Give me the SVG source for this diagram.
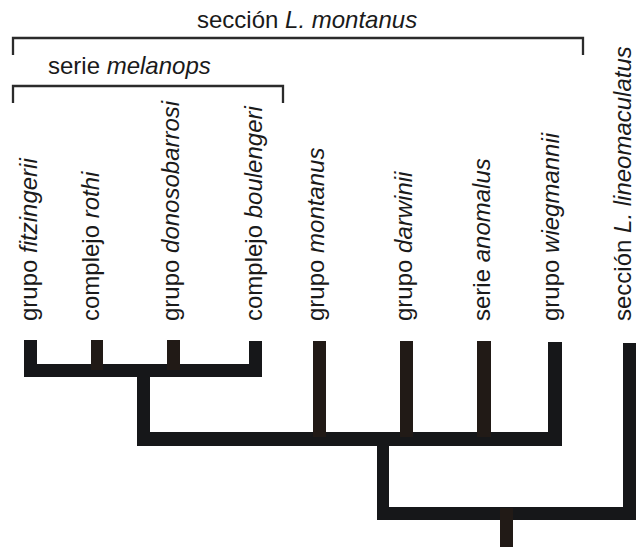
<svg xmlns="http://www.w3.org/2000/svg" width="636" height="547" viewBox="0 0 636 547">
<style>
text{font-family:"Liberation Sans",Arial,sans-serif;font-size:24px;fill:#1a1a1a}
.i{font-style:italic}
.br{fill:none;stroke:#2b2b2b;stroke-width:2.3}
.k{fill:#161719}
.b{fill:#211a16}
</style>
<rect width="636" height="547" fill="#ffffff"/>
<g id="seccion-montanus">
<path class="br" d="M13,55 V38 H583 V55"/>
<text x="197" y="28">sección <tspan class="i">L. montanus</tspan></text>
</g>
<g id="serie-melanops">
<path class="br" d="M13,103 V86 H283 V103"/>
<text x="48" y="74">serie <tspan class="i">melanops</tspan></text>
</g>
<g id="fitzingerii"><text transform="translate(37,321) rotate(-90)">grupo <tspan class="i">fitzingerii</tspan></text></g>
<g id="rothi"><text transform="translate(98.5,321) rotate(-90)">complejo <tspan class="i">rothi</tspan></text></g>
<g id="donosobarrosi"><text transform="translate(179,321) rotate(-90)">grupo <tspan class="i">donosobarrosi</tspan></text></g>
<g id="boulengeri"><text transform="translate(262,321) rotate(-90)">complejo <tspan class="i">boulengeri</tspan></text></g>
<g id="montanus"><text transform="translate(324,321) rotate(-90)">grupo <tspan class="i">montanus</tspan></text></g>
<g id="darwinii"><text transform="translate(412,321) rotate(-90)">grupo <tspan class="i">darwinii</tspan></text></g>
<g id="anomalus"><text transform="translate(490,321) rotate(-90)">serie <tspan class="i">anomalus</tspan></text></g>
<g id="wiegmannii"><text transform="translate(559,321) rotate(-90)">grupo <tspan class="i">wiegmannii</tspan></text></g>
<g id="lineomaculatus"><text transform="translate(631,321) rotate(-90)">sección <tspan class="i">L. lineomaculatus</tspan></text></g>
<g id="connectors">
<rect class="k" x="24" y="340" width="13" height="37"/>
<rect class="k" x="249" y="341" width="13" height="36"/>
<rect class="k" x="24" y="364" width="238" height="13"/>
<rect class="b" x="91" y="340" width="12" height="30"/>
<rect class="b" x="167" y="340" width="13" height="30"/>
<rect class="k" x="137" y="370" width="13" height="70"/>
<rect class="k" x="137" y="432" width="425" height="14"/>
<rect class="k" x="548" y="342" width="14" height="104"/>
<rect class="b" x="313" y="341" width="13" height="96"/>
<rect class="b" x="400" y="341" width="13" height="96"/>
<rect class="b" x="477" y="341" width="14" height="96"/>
<rect class="k" x="377" y="440" width="12" height="75"/>
<rect class="k" x="377" y="507" width="259" height="13"/>
<rect class="k" x="623" y="343" width="13" height="177"/>
<rect class="b" x="500" y="508" width="13" height="39"/>
</g>
</svg>
